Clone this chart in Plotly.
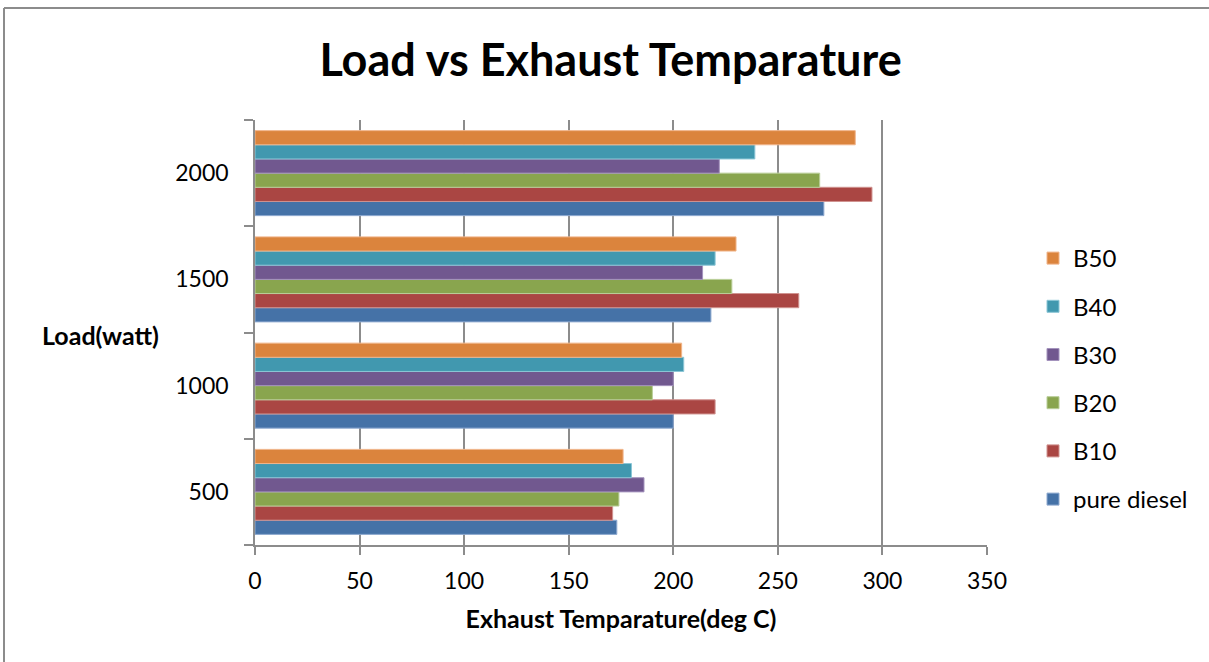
import plotly.graph_objects as go

# Load levels (watt) and exhaust temperatures (deg C) per fuel blend
loads = ["500", "1000", "1500", "2000"]
pure_diesel = [173, 200, 218, 272]
b10 = [171, 220, 260, 295]
b20 = [174, 190, 228, 270]
b30 = [186, 200, 214, 222]
b40 = [180, 205, 220, 239]
b50 = [176, 204, 230, 287]

series_names = ["pure diesel", "B10", "B20", "B30", "B40", "B50"]
series_values = [pure_diesel, b10, b20, b30, b40, b50]
colors = ["#4572A7", "#AA4643", "#89A54E", "#71588F", "#4198AF", "#DB843D"]
outlines = ["#8FAAD0", "#D09390", "#B9CE98", "#A493BD", "#8CC6D6", "#F0B48A"]

FONT = "Lato, Open Sans, sans-serif"

fig = go.Figure()
n = len(series_names)
for i, (name, vals) in enumerate(zip(series_names, series_values)):
    fig.add_trace(go.Bar(
        y=loads, x=vals, name=name, orientation="h",
        marker=dict(color=colors[i], line=dict(color=outlines[i], width=1)),
        legendgroup=name, legendrank=(n - i) * 10,
    ))

L, R, T, B = 255, 222, 120, 117
W, H = 1209, 662
pw, ph = W - L - R, H - T - B


def px_x(p):
    return (p - L) / pw


def px_y(p):
    return (H - B - p) / ph


# chart-area frame: only its top and left edges fall inside the page
frame = dict(color="#8C8C8C", width=2)
frame_shapes = [
    dict(type="line", xref="paper", yref="paper",
         x0=px_x(4), x1=px_x(W + 20), y0=px_y(8), y1=px_y(8), line=frame),
    dict(type="line", xref="paper", yref="paper",
         x0=px_x(4), x1=px_x(4), y0=px_y(8), y1=px_y(H + 20), line=frame),
]

fig.update_layout(
    width=W, height=H,
    margin=dict(l=L, r=R, t=T, b=B),
    paper_bgcolor="white", plot_bgcolor="white",
    barmode="group", bargap=0.2, bargroupgap=0,
    font=dict(family=FONT, size=23, color="#000000"),
    title=dict(text="<b>Load vs Exhaust Temparature</b>",
               x=0.505, xanchor="center", y=1 - 60 / H, yanchor="middle",
               font=dict(size=45, family=FONT, color="#000000")),
    xaxis=dict(range=[0, 350], dtick=50, tick0=0,
               showgrid=True, gridcolor="#8C8C8C", gridwidth=1.5,
               showline=True, linecolor="#8C8C8C", linewidth=1.5,
               ticks="outside", ticklen=8, tickcolor="#8C8C8C", tickwidth=1.5,
               zeroline=False, tickfont=dict(size=23), ticklabelstandoff=7,
               title=dict(text="<b>Exhaust Temparature(deg C)</b>",
                          font=dict(size=25), standoff=17)),
    yaxis=dict(type="category", range=[-0.5, 3.5],
               showgrid=False, showline=True, linecolor="#8C8C8C", linewidth=1.5,
               ticks="outside", ticklen=9, tickcolor="#8C8C8C", tickwidth=1.5,
               tickson="boundaries", tickfont=dict(size=23), ticklabelstandoff=20),
    legend=dict(x=px_x(1033), y=px_y(236), xanchor="left", yanchor="top",
                traceorder="grouped", tracegroupgap=14,
                font=dict(size=24), itemwidth=30, bgcolor="rgba(0,0,0,0)"),
    annotations=[dict(text="<b>Load(watt)</b>", xref="paper", yref="paper",
                      x=px_x(40), y=px_y(335), xanchor="left", yanchor="middle",
                      showarrow=False, font=dict(size=25, family=FONT))],
    shapes=frame_shapes,
)

fig.write_html("out.html")
